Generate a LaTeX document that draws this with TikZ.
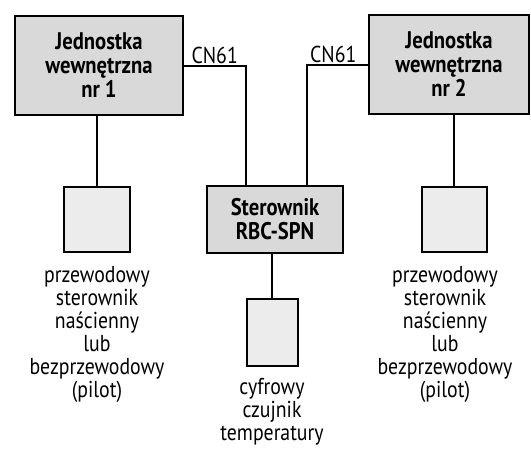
\documentclass[tikz,border=0pt]{standalone}
\usepackage{fontspec}
\setmainfont{PT Sans}[FakeStretch=0.86]
\usetikzlibrary{positioning,calc}
\definecolor{unitgray}{RGB}{217,217,217}
\definecolor{devgray}{RGB}{236,236,236}
\tikzset{
  unit/.style={rectangle,draw=black,line width=2pt,fill=unitgray,
               align=center,font=\fontsize{24}{24}\selectfont\bfseries},
  dev/.style={rectangle,draw=black,line width=2pt,fill=devgray,
              inner sep=0pt},
  wire/.style={line width=2pt,black},
  desc/.style={align=center,font=\fontsize{23}{23}\selectfont,inner sep=0pt},
  port/.style={font=\fontsize{23}{22}\selectfont,inner sep=2pt},
}
\begin{document}
\begin{tikzpicture}[x=1pt,y=-1pt]
    \useasboundingbox (0,0) rectangle (531,448);

    % jednostki wewnetrzne
    \node[unit,minimum width=168pt,minimum height=99pt] (jw1) at (99,65.5)
      {Jednostka\\wewnętrzna\\nr 1};
    \node[unit,minimum width=160pt,minimum height=99pt] (jw2) at (449,64.5)
      {Jednostka\\wewnętrzna\\nr 2};
    \node[unit,minimum width=136pt,minimum height=67pt] (ster) at (275,219.5)
      {Sterownik\\RBC-SPN};

    % sterowniki i czujnik
    \node[dev,minimum width=66pt,minimum height=65pt] (p1) at (97,219.5) {};
    \node[dev,minimum width=65pt,minimum height=65pt] (p2) at (454,219.5) {};
    \node[dev,minimum width=51pt,minimum height=67pt] (cz) at (272,332.5) {};

    \node[desc,below=13pt of p1] (d1)
      {przewodowy\\sterownik\\naścienny\\lub\\bezprzewodowy\\(pilot)};
    \node[desc,below=13pt of p2,xshift=-9pt] (d2)
      {przewodowy\\sterownik\\naścienny\\lub\\bezprzewodowy\\(pilot)};
    \node[desc,below=11pt of cz] (d3) {cyfrowy\\czujnik\\temperatury};

    % polaczenia
    \coordinate (c1) at ($(ster.north)+(-29,0)$);
    \coordinate (c2) at ($(ster.north)+(32,0)$);
    \draw[wire] (jw1.east) -| (c1) coordinate[pos=0.5] (k1);
    \draw[wire] (jw2.west) -| (c2) coordinate[pos=0.5] (k2);
    \node[port,anchor=south east] (cn1) at ($(k1)+(-6,0)$) {CN61};
    \node[port,anchor=south west] (cn2) at ($(k2)+(1,0)$) {CN61};

    \draw[wire] (jw1.south -| p1) -- (p1.north);
    \draw[wire] (jw2.south -| p2) -- (p2.north);
    \draw[wire] (ster.south -| cz) -- (cz.north);
\end{tikzpicture}
\end{document}
